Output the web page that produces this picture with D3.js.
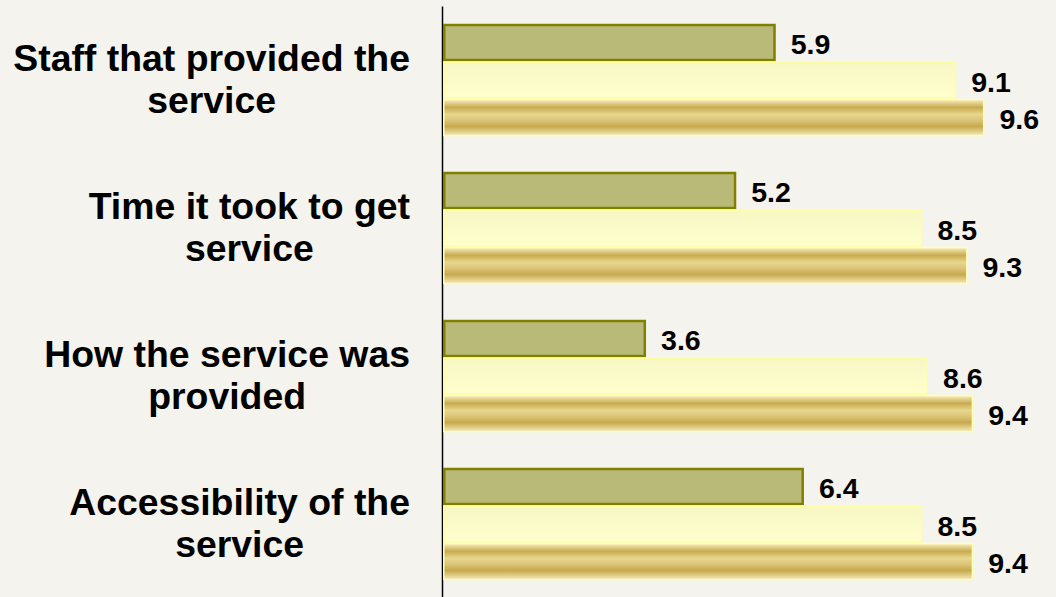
<!DOCTYPE html>
<html>
<head>
<meta charset="utf-8">
<script src="https://cdn.jsdelivr.net/npm/d3@7/dist/d3.min.js"></script>
<style>
  html, body { margin: 0; padding: 0; background: #F4F3EE; }
  svg { display: block; }
  text { font-family: "Liberation Sans", Arial, sans-serif; font-weight: bold; fill: #000; }
</style>
</head>
<body>
<svg id="chart" width="1056" height="597"></svg>
<script>
// ---- data ----
const categories = ["Staff that provided the service", "Time it took to get service", "How the service was provided", "Accessibility of the service"];
const categoryLines = [["Staff that provided the", "service"], ["Time it took to get", "service"], ["How the service was", "provided"], ["Accessibility of the", "service"]];
const seriesNames = ["s1", "s2", "s3"];
const series1 = [5.9, 5.2, 3.6, 6.4];
const series2 = [9.1, 8.5, 8.6, 8.5];
const series3 = [9.6, 9.3, 9.4, 9.4];
const seriesValues = [series1, series2, series3];

// ---- layout ----
const W = 1056, H = 597;
const svg = d3.select("#chart");

const defs = svg.append("defs");
const g2 = defs.append("linearGradient").attr("id", "pale").attr("x1", 0).attr("y1", 0).attr("x2", 0).attr("y2", 1);
[[0, "#F7F7C6"], [1, "#FFFFCE"]].forEach(([o, c]) => g2.append("stop").attr("offset", o).attr("stop-color", c));
const g3 = defs.append("linearGradient").attr("id", "gold").attr("x1", 0).attr("y1", 0).attr("x2", 0).attr("y2", 1);
[[0, "#FBF4C8"], [0.08, "#E6D596"], [0.22, "#C9AB4F"], [0.42, "#E8D78F"], [0.6, "#D9C172"], [0.75, "#C8A94E"], [0.9, "#E2D08E"], [1, "#F3EAC0"]]
  .forEach(([o, c]) => g3.append("stop").attr("offset", o).attr("stop-color", c));

const fills = ["#BABA78", "url(#pale)", "url(#gold)"];
const strokes = ["#808000", "#FFFF99", "#FFFFB0"];
const strokeW = [2.5, 1.5, 1.5];

const y = d3.scaleBand().domain(categories).range([6, 598]).paddingInner(0.24).paddingOuter(0.12);
const yInner = d3.scaleBand().domain(seriesNames).range([0, y.bandwidth()]).padding(0);
const x = d3.scaleLinear().domain([0, 10]).range([443, 1007]);

// axis line
const axis = d3.axisLeft(y).tickSize(0).tickSizeOuter(0).tickFormat("");
const axG = svg.append("g").attr("transform", `translate(${x(0) - 1},0)`).call(axis);
axG.select(".domain").attr("stroke", "#000").attr("stroke-width", 1.5);

// bars
categories.forEach((cat, ci) => {
  const g = svg.append("g").attr("transform", `translate(0,${y(cat)})`);
  seriesNames.forEach((s, si) => {
    const v = seriesValues[si][ci];
    const sw = strokeW[si];
    g.append("rect")
      .attr("x", x(0) + sw / 2)
      .attr("y", yInner(s) + sw / 2)
      .attr("width", x(v) - x(0) - sw)
      .attr("height", yInner.bandwidth() - sw)
      .attr("fill", fills[si])
      .attr("stroke", strokes[si])
      .attr("stroke-width", sw);
    g.append("text")
      .attr("x", x(v) + 15)
      .attr("y", yInner(s) + yInner.bandwidth() / 2 + 12)
      .attr("font-size", 28.5)
      .text(v.toFixed(1));
  });

  // category label: block right-aligned, lines centred
  const lines = categoryLines[ci];
  const cy = y(cat) + y.bandwidth() / 2;
  const lg = svg.append("g");
  const texts = lines.map((ln, li) => lg.append("text")
    .attr("font-size", 37.4)
    .attr("text-anchor", "middle")
    .attr("y", cy + 12.3 + (li - (lines.length - 1) / 2) * 41.7)
    .text(ln));
  const maxW = d3.max(texts, t => t.node().getComputedTextLength());
  texts.forEach(t => t.attr("x", 410 - maxW / 2));
});
</script>
</body>
</html>
